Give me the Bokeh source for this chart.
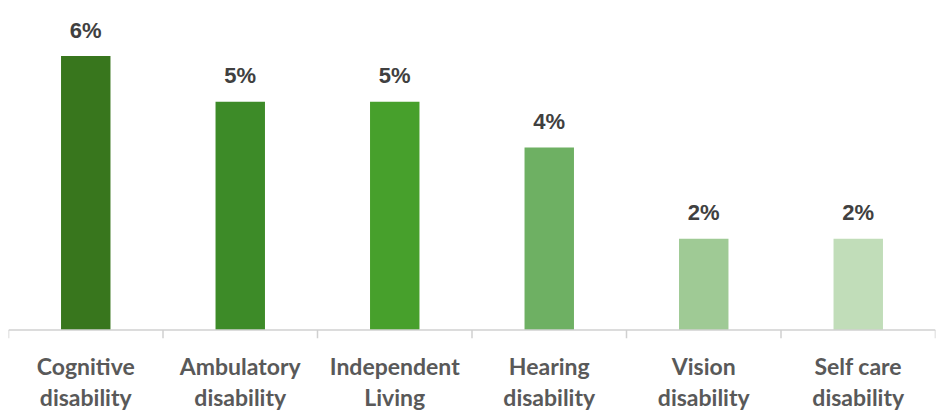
from bokeh.plotting import figure
from bokeh.models import FactorRange, Range1d, ColumnDataSource, Span
from bokeh.transform import dodge
from bokeh.core.properties import value
from bokeh.embed import file_html
from bokeh.resources import INLINE

categories = ["Cognitive\ndisability", "Ambulatory\ndisability", "Independent\nLiving",
              "Hearing\ndisability", "Vision\ndisability", "Self care\ndisability"]
values = [6, 5, 5, 4, 2, 2]
labels = ["6%", "5%", "5%", "4%", "2%", "2%"]
colors = ["#38761d", "#3d8b28", "#47a02c", "#6eb063", "#9fca95", "#c1ddb9"]

src = ColumnDataSource(dict(cat=categories, val=values, lab=labels, col=colors))

p = figure(width=937, height=413, output_backend="svg", toolbar_location=None,
           x_range=FactorRange(factors=categories, range_padding=0),
           y_range=Range1d(-0.185, 7.02),
           min_border_left=8, min_border_right=2, min_border_top=9, min_border_bottom=73)
p.outline_line_color = None
p.grid.grid_line_color = None
p.yaxis.visible = False
p.background_fill_color = "white"

p.vbar(x="cat", top="val", bottom=0, width=0.32, fill_color="col",
       line_color=None, source=src)

p.text(x="cat", y="val", text="lab", source=src, text_align="center",
       text_baseline="alphabetic", y_offset=-26, text_font=value("Liberation Sans"),
       text_font_style="bold", text_font_size="22px", text_color="#404040")

# axis baseline and category separator ticks
p.add_layout(Span(location=0, dimension="width", line_color="#d0d0d0", line_width=1.5))
p.segment(x0=dodge("cat", -0.5, range=p.x_range), y0=0,
          x1=dodge("cat", -0.5, range=p.x_range), y1=-0.185,
          source=src, line_color="#d0d0d0", line_width=1.5)
last = ColumnDataSource(dict(cat=categories[-1:]))
p.segment(x0=dodge("cat", 0.5, range=p.x_range), y0=0,
          x1=dodge("cat", 0.5, range=p.x_range), y1=-0.185,
          source=last, line_color="#d0d0d0", line_width=1.5)

ax = p.xaxis[0]
ax.axis_line_color = None
ax.major_tick_line_color = None
ax.minor_tick_line_color = None
ax.major_label_text_font = "Lato"
ax.major_label_text_font_style = "bold"
ax.major_label_text_font_size = "23px"
ax.major_label_text_color = "#595959"
ax.major_label_text_line_height = 1.12
ax.major_label_standoff = 7

open("out.html", "w").write(file_html(p, INLINE))
